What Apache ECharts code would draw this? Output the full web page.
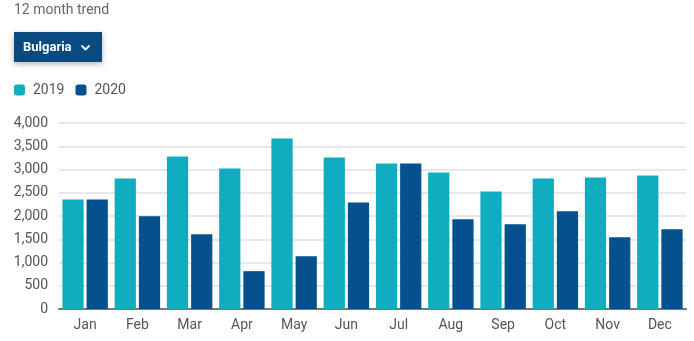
<!DOCTYPE html>
<html>
<head>
<meta charset="utf-8">
<script src="https://cdn.jsdelivr.net/npm/echarts@6/dist/echarts.min.js"></script>
<style>
  html, body { margin: 0; padding: 0; background: #fff; }
  #chart { width: 694px; height: 341px; }
</style>
</head>
<body>
<div id="chart"></div>
<script>
// Monthly totals for Bulgaria, two consecutive years
const months = ['Jan', 'Feb', 'Mar', 'Apr', 'May', 'Jun', 'Jul', 'Aug', 'Sep', 'Oct', 'Nov', 'Dec'];
const values2019 = [2357, 2807, 3278, 3021, 3664, 3257, 3128, 2935, 2528, 2807, 2828, 2871];
const values2020 = [2357, 1993, 1607, 814, 1136, 2293, 3128, 1928, 1821, 2100, 1543, 1714];
const yTicks = { min: 0, max: 4000, interval: 500 };

const FONT = 'Roboto, "Noto Sans", sans-serif';
const chart = echarts.init(document.getElementById('chart'), null, { renderer: 'canvas' });

chart.setOption({
  animation: false,
  textStyle: { fontFamily: FONT },
  title: {
    text: '12 month trend',
    left: 14, top: 3, padding: 0,
    textStyle: { fontFamily: FONT, fontSize: 14, fontWeight: 'normal', color: '#666' }
  },
  graphic: [
    {
      type: 'group', left: 14, top: 32,
      children: [
        {
          type: 'rect',
          shape: { x: 0, y: 0, width: 88, height: 30 },
          style: { fill: '#0b4a80', shadowBlur: 6, shadowColor: 'rgba(0,0,0,0.3)', shadowOffsetY: 2 }
        },
        {
          type: 'text', x: 9, y: 15.5,
          style: { text: 'Bulgaria', fill: '#fff', font: 'bold 13px ' + FONT, textVerticalAlign: 'middle' }
        },
        {
          type: 'polyline',
          shape: { points: [[67.5, 13.5], [71.5, 17.5], [75.5, 13.5]] },
          style: { stroke: '#fff', lineWidth: 1.8, fill: null }
        }
      ]
    }
  ],
  legend: {
    left: 14, top: 83, padding: 0,
    icon: 'roundRect',
    itemWidth: 11, itemHeight: 11,
    itemGap: 11,
    textStyle: { fontFamily: FONT, fontSize: 14, color: '#555', padding: [0, 0, 0, 3] },
    data: ['2019', '2020']
  },
  grid: { left: 59, right: 8, top: 123, bottom: 32 },
  xAxis: {
    type: 'category',
    data: months,
    axisLine: { lineStyle: { color: '#777', width: 2 } },
    axisTick: { show: false },
    axisLabel: { color: '#555', fontSize: 14, margin: 9, fontFamily: FONT }
  },
  yAxis: {
    type: 'value',
    min: yTicks.min, max: yTicks.max, interval: yTicks.interval,
    axisLine: { show: false },
    axisTick: { show: false },
    splitLine: { lineStyle: { color: '#e8e8e8', width: 2 } },
    axisLabel: {
      color: '#555', fontSize: 14, margin: 11, fontFamily: FONT,
      formatter: v => v.toLocaleString('en-US')
    }
  },
  series: [
    {
      name: '2019', type: 'bar', data: values2019,
      itemStyle: { color: '#10adc0' },
      barGap: '14%', barCategoryGap: '13%'
    },
    {
      name: '2020', type: 'bar', data: values2020,
      itemStyle: { color: '#06508e' },
      barGap: '14%', barCategoryGap: '13%'
    }
  ]
});
</script>
</body>
</html>
